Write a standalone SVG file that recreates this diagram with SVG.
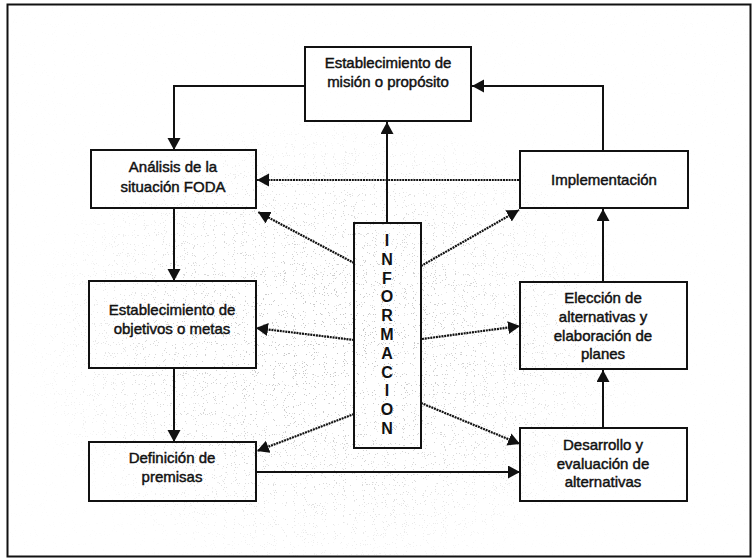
<svg xmlns="http://www.w3.org/2000/svg" width="752" height="559" viewBox="0 0 752 559">
  <defs>
    <style>
      .box { fill: none; stroke: #111; stroke-width: 2; }
      .lbl { font-family: "Liberation Sans", Arial, sans-serif; font-size: 15px; fill: #111; stroke: #111; stroke-width: 0.45; text-anchor: middle; }
      .info { font-family: "Liberation Sans", Arial, sans-serif; font-size: 16px; font-weight: bold; fill: #111; text-anchor: middle; }
      .solid { fill: none; stroke: #111; stroke-width: 2; }
      .dot { fill: none; stroke: #111; stroke-width: 2.2; stroke-dasharray: 2 0.8; }
    </style>
    <marker id="arr" markerUnits="userSpaceOnUse" markerWidth="13" markerHeight="14" refX="12" refY="6.5" orient="auto">
      <path d="M0,0 L12,6.5 L0,13 z" fill="#111"/>
    </marker>
    <filter id="grain" x="0" y="0" width="100%" height="100%">
      <feTurbulence type="fractalNoise" baseFrequency="0.9" numOctaves="1" seed="7"/>
      <feColorMatrix type="matrix" values="0 0 0 0 0.3  0 0 0 0 0.3  0 0 0 0 0.3  8 0 0 0 -4.6"/>
      <feComponentTransfer>
        <feFuncA type="discrete" tableValues="0 0 0 0 0 0 0.5 0.9"/>
      </feComponentTransfer>
    </filter>
    <radialGradient id="fade" cx="0.45" cy="0.62" r="0.42">
      <stop offset="0" stop-color="#fff" stop-opacity="1"/>
      <stop offset="0.6" stop-color="#fff" stop-opacity="0.6"/>
      <stop offset="1" stop-color="#fff" stop-opacity="0.05"/>
    </radialGradient>
    <mask id="grainMask">
      <rect x="0" y="0" width="752" height="559" fill="url(#fade)"/>
    </mask>
  </defs>

  <rect x="0" y="0" width="752" height="559" fill="#fff"/>

  <!-- scanned paper speckle -->
  <g mask="url(#grainMask)" opacity="0.65">
    <rect x="8" y="6" width="742" height="550" fill="#fff" filter="url(#grain)"/>
  </g>

  <!-- outer frame -->
  <rect x="7.5" y="4.5" width="743" height="552" fill="none" stroke="#111" stroke-width="2"/>

  <!-- connectors -->
  <g id="connectors">
    <path class="solid" d="M305,86 H174 V150" marker-end="url(#arr)"/>
    <path class="solid" d="M603,151 V86 H472" marker-end="url(#arr)"/>
    <path class="solid" d="M174,209 V281" marker-end="url(#arr)"/>
    <path class="solid" d="M174,368 V442" marker-end="url(#arr)"/>
    <path class="solid" d="M257,472 H520" marker-end="url(#arr)"/>
    <path class="solid" d="M603,428 V370" marker-end="url(#arr)"/>
    <path class="solid" d="M603,282 V209" marker-end="url(#arr)"/>
    <path class="solid" d="M387,223 V122" marker-end="url(#arr)"/>
    <path class="dot" d="M519,180 H257" marker-end="url(#arr)"/>
    <path class="dot" d="M354,263 L258,212" marker-end="url(#arr)"/>
    <path class="dot" d="M421,266 L519,210" marker-end="url(#arr)"/>
    <path class="dot" d="M354,340 L256,328" marker-end="url(#arr)"/>
    <path class="dot" d="M422,339 L520,326" marker-end="url(#arr)"/>
    <path class="dot" d="M354,414 L257,451" marker-end="url(#arr)"/>
    <path class="dot" d="M421,403 L520,444" marker-end="url(#arr)"/>
  </g>

  <g id="mision">
    <rect class="box" x="305" y="47" width="166" height="74" fill="#fff"/>
    <text class="lbl" x="388" y="68">Establecimiento de</text>
    <text class="lbl" x="388" y="87">misión o propósito</text>
  </g>

  <g id="foda">
    <rect class="box" x="91" y="150" width="165" height="58"/>
    <text class="lbl" x="173" y="172">Análisis de la</text>
    <text class="lbl" x="173" y="192">situación FODA</text>
  </g>

  <g id="objetivos">
    <rect class="box" x="89" y="281" width="167" height="87"/>
    <text class="lbl" x="172" y="315">Establecimiento de</text>
    <text class="lbl" x="172" y="334">objetivos o metas</text>
  </g>

  <g id="premisas">
    <rect class="box" x="89" y="442" width="167" height="59"/>
    <text class="lbl" x="172" y="463">Definición de</text>
    <text class="lbl" x="172" y="482">premisas</text>
  </g>

  <g id="implementacion">
    <rect class="box" x="520" y="151" width="168" height="57"/>
    <text class="lbl" x="604" y="185">Implementación</text>
  </g>

  <g id="eleccion">
    <rect class="box" x="520" y="282" width="167" height="87"/>
    <text class="lbl" x="603" y="303">Elección de</text>
    <text class="lbl" x="603" y="322">alternativas y</text>
    <text class="lbl" x="603" y="341">elaboración de</text>
    <text class="lbl" x="603" y="359">planes</text>
  </g>

  <g id="desarrollo">
    <rect class="box" x="520" y="428" width="167" height="73"/>
    <text class="lbl" x="603" y="450">Desarrollo y</text>
    <text class="lbl" x="603" y="469">evaluación de</text>
    <text class="lbl" x="603" y="487">alternativas</text>
  </g>

  <g id="informacion">
    <rect class="box" x="354" y="223" width="67" height="225"/>
    <text class="info" x="387" y="246">I</text>
    <text class="info" x="387" y="265">N</text>
    <text class="info" x="387" y="284">F</text>
    <text class="info" x="387" y="302">O</text>
    <text class="info" x="387" y="321">R</text>
    <text class="info" x="387" y="340">M</text>
    <text class="info" x="387" y="359">A</text>
    <text class="info" x="387" y="378">C</text>
    <text class="info" x="387" y="396">I</text>
    <text class="info" x="387" y="415">O</text>
    <text class="info" x="387" y="434">N</text>
  </g>
</svg>
